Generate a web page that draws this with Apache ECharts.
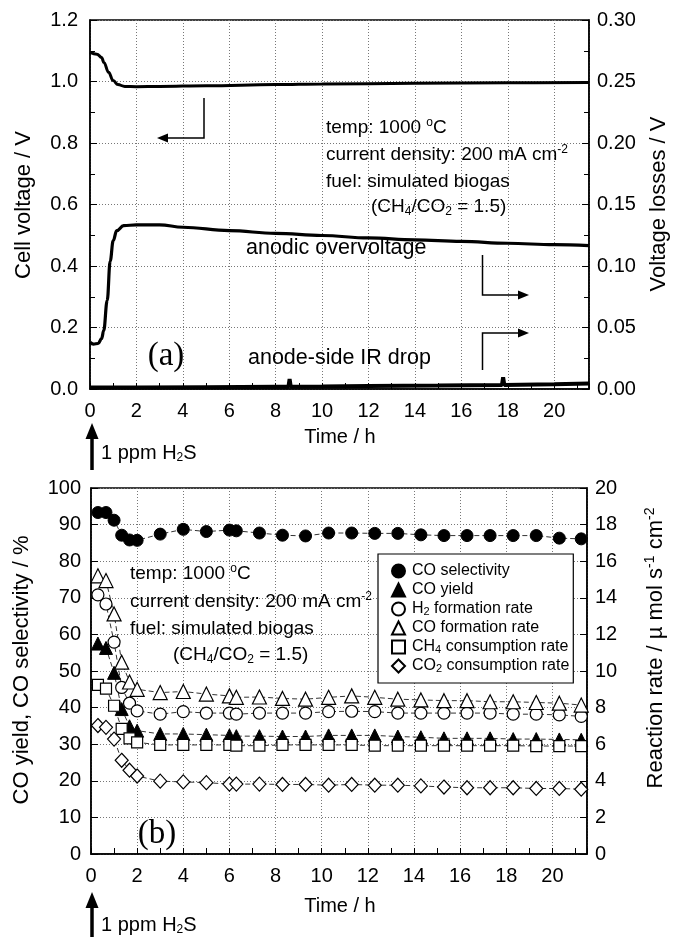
<!DOCTYPE html>
<html>
<head>
<meta charset="utf-8">
<script src="https://cdn.jsdelivr.net/npm/echarts@6/dist/echarts.min.js"></script>
<style>html,body{margin:0;padding:0;background:#fff;}#c{width:676px;height:937px;}</style>
</head>
<body>
<div id="c"></div>
<script>
// ---------- Panel (a) data ----------
const cellTime    = [0, 0.3, 0.5, 0.6, 0.8, 1.0, 1.2, 1.5, 2, 3, 5, 8, 10, 14, 18, 21.5];
const cellVoltage = [1.095, 1.089, 1.078, 1.062, 1.03, 1.003, 0.99, 0.984, 0.983, 0.984, 0.986, 0.99, 0.992, 0.994, 0.996, 0.997];

const ovTime      = [0, 0.15, 0.35, 0.5, 0.59, 0.74, 0.87, 1.0, 1.15, 1.45, 2, 3, 4, 6, 8, 10, 12, 14, 16, 18, 20, 21.5];
const overvoltage = [0.038, 0.0365, 0.037, 0.041, 0.0474, 0.0718, 0.104, 0.1206, 0.1287, 0.1328, 0.1335, 0.1335, 0.1315, 0.1288, 0.1265, 0.1248, 0.1228, 0.1213, 0.12, 0.1185, 0.1173, 0.1165];

const irTime   = [0, 2, 5, 8, 8.55, 8.6, 8.65, 10, 12, 15, 17.75, 17.8, 17.85, 20, 21.5];
const irDrop   = [0.0012, 0.0012, 0.0015, 0.0018, 0.0018, 0.008, 0.0018, 0.002, 0.0024, 0.0028, 0.0033, 0.0095, 0.0033, 0.0038, 0.0045];

// ---------- Panel (b) data ----------
const bTime = [0.3, 0.65, 1.0, 1.33, 1.67, 2.0, 3, 4, 5, 6, 6.3, 7.3, 8.3, 9.3, 10.3, 11.3, 12.3, 13.3, 14.3, 15.3, 16.3, 17.3, 18.3, 19.3, 20.3, 21.25];
const coSelectivity = [93.3, 93.3, 91.2, 87.1, 85.8, 85.7, 87.4, 88.7, 88.1, 88.5, 88.3, 87.7, 87.1, 86.9, 87.7, 87.7, 87.6, 87.6, 87.2, 87.0, 87.0, 87.0, 87.0, 87.0, 86.3, 86.1];
const coYield       = [57.5, 56.3, 49.5, 39.6, 34.9, 33.7, 32.8, 32.8, 32.6, 32.4, 32.2, 32.2, 32.1, 32.1, 32.4, 32.4, 32.4, 32.1, 31.9, 31.6, 31.6, 31.6, 31.4, 31.4, 31.3, 31.2];
const h2Formation   = [14.16, 13.66, 11.58, 9.1, 8.24, 7.82, 7.64, 7.78, 7.7, 7.7, 7.64, 7.7, 7.7, 7.7, 7.78, 7.8, 7.78, 7.7, 7.7, 7.7, 7.7, 7.7, 7.64, 7.64, 7.6, 7.52];
const coFormation   = [15.2, 14.94, 13.12, 10.48, 9.4, 9.0, 8.82, 8.88, 8.74, 8.64, 8.56, 8.58, 8.5, 8.46, 8.56, 8.64, 8.56, 8.46, 8.42, 8.38, 8.38, 8.32, 8.32, 8.28, 8.24, 8.14];
const ch4Consumption= [9.24, 9.04, 8.1, 6.84, 6.32, 6.1, 5.96, 5.96, 5.96, 5.96, 5.92, 5.92, 5.96, 5.96, 5.96, 5.96, 5.92, 5.92, 5.92, 5.92, 5.92, 5.92, 5.92, 5.9, 5.9, 5.9];
const co2Consumption= [7.02, 6.92, 6.28, 5.12, 4.58, 4.26, 3.98, 3.94, 3.9, 3.82, 3.82, 3.82, 3.8, 3.8, 3.76, 3.8, 3.76, 3.76, 3.72, 3.66, 3.62, 3.62, 3.62, 3.58, 3.58, 3.54];

const legendNames = ['CO selectivity', 'CO yield', 'H2 formation rate', 'CO formation rate', 'CH4 consumption rate', 'CO2 consumption rate'];

const FONT = "'Liberation Sans', Arial, Helvetica, sans-serif";
const SERIF = "'Liberation Serif', 'Times New Roman', serif";

const pairs = (xs, ys) => xs.map((x, i) => [x, ys[i]]);

function xAxisCfg(gi) {
  return {
    gridIndex: gi, type: 'value', min: 0, max: 21.5, interval: 2,
    axisLine: {show: true, onZero: false, lineStyle: {color: '#000', width: 1.5}},
    axisTick: {show: true, inside: true, length: 6, lineStyle: {color: '#000', width: 1}},
    minorTick: {show: true, splitNumber: 2, length: 6, lineStyle: {color: '#000', width: 1}},
    axisLabel: {color: '#000', fontSize: 20, fontFamily: FONT, margin: 12, showMaxLabel: false},
    splitLine: {show: true, lineStyle: {color: '#777', width: 1, type: [1, 2]}}
  };
}
function yAxisCfg(gi, pos, min, max, interval, dec, split, margin, minor) {
  return {
    gridIndex: gi, type: 'value', position: pos, min: min, max: max, interval: interval,
    axisLine: {show: true, onZero: false, lineStyle: {color: '#000', width: 1.5}},
    axisTick: {show: true, inside: true, length: 7, lineStyle: {color: '#000', width: 1}},
    minorTick: {show: minor, splitNumber: 2, length: 5, lineStyle: {color: '#000', width: 1}},
    axisLabel: {color: '#000', fontSize: 20, fontFamily: FONT, margin: margin,
      formatter: v => v.toFixed(dec)},
    splitLine: {show: split, lineStyle: {color: '#777', width: 1, type: [1, 2]}}
  };
}

const dash = {color: '#333', width: 1, type: [5, 3]};
function marker(name, data, yIdx, symbol, size, filled) {
  return {
    name: name, type: 'line', xAxisIndex: 1, yAxisIndex: yIdx, data: data,
    symbol: symbol, symbolSize: size, showSymbol: true,
    lineStyle: dash,
    itemStyle: filled ? {color: '#000', borderColor: '#000', borderWidth: 1}
                      : {color: '#fff', borderColor: '#000', borderWidth: 1.2},
    emphasis: {disabled: true}, z: 3
  };
}

const fs = 19;
const annRich = {
  n: {fontSize: fs, fontFamily: FONT, fill: '#000', lineHeight: 22},
  sup: {fontSize: 12, fontFamily: FONT, fill: '#000', verticalAlign: 'top', lineHeight: 10},
  sub: {fontSize: 12, fontFamily: FONT, fill: '#000', verticalAlign: 'bottom', lineHeight: 8}
};
function annText(x, y, text, size) {
  const rich = JSON.parse(JSON.stringify(annRich));
  if (size) rich.n.fontSize = size;
  return {type: 'text', x: x, y: y, z: 50,
    style: {text: text, rich: rich, align: 'left', verticalAlign: 'middle', fontSize: size || fs, fontFamily: FONT, fill: '#000'}};
}
function vText(x, y, text, size) {
  return {type: 'text', x: x, y: y, rotation: Math.PI / 2, z: 50,
    style: {text: text, align: 'center', verticalAlign: 'middle', fontSize: size, fontFamily: FONT, fill: '#000',
      rich: {
        n: {fontSize: size, fontFamily: FONT, fill: '#000', lineHeight: 26},
        sup: {fontSize: 14, fontFamily: FONT, fill: '#000', verticalAlign: 'top', lineHeight: 12}
      }}};
}
function bentArrow(pts, head) {
  return [
    {type: 'polyline', z: 50, shape: {points: pts}, style: {stroke: '#000', lineWidth: 1.5, fill: null}},
    {type: 'polygon', z: 50, shape: {points: head}, style: {fill: '#000'}}
  ];
}
function upArrow(x, yTip, yEnd) {
  return [
    {type: 'line', z: 50, shape: {x1: x, y1: yTip + 10, x2: x, y2: yEnd}, style: {stroke: '#000', lineWidth: 3.5}},
    {type: 'polygon', z: 50, shape: {points: [[x, yTip], [x - 6.5, yTip + 16], [x + 6.5, yTip + 16]]}, style: {fill: '#000'}}
  ];
}

const graphics = [
  // panel (a) annotations
  annText(326, 128, '{n|temp: 1000 }{sup|o}{n|C}'),
  annText(326, 155, '{n|current density: 200 mA cm}{sup|-2}'),
  annText(326, 182, '{n|fuel: simulated biogas}'),
  annText(371, 207, '{n|(CH}{sub|4}{n|/CO}{sub|2}{n| = 1.5)}'),
  annText(246, 248, '{n|anodic overvoltage}', 21.5),
  annText(248, 358, '{n|anode-side IR drop}', 21.5),
  {type: 'text', x: 166, y: 356, z: 50, style: {text: '(a)', align: 'center', verticalAlign: 'middle', fontSize: 33, fontFamily: SERIF, fill: '#000'}},
  ...bentArrow([[204, 98], [204, 138], [166, 138]], [[157, 138], [168, 133.5], [168, 142.5]]),
  ...bentArrow([[482.5, 255], [482.5, 295], [520, 295]], [[529, 295], [518, 290.5], [518, 299.5]]),
  ...bentArrow([[482.5, 370], [482.5, 333], [520, 333]], [[529, 333], [518, 328.5], [518, 337.5]]),
  ...upArrow(92, 423, 470),
  annText(101, 453, '{n|1 ppm H}{sub|2}{n|S}', 20),
  {type: 'text', x: 340, y: 437, z: 50, style: {text: 'Time / h', align: 'center', verticalAlign: 'middle', fontSize: 20, fontFamily: FONT, fill: '#000'}},
  vText(24, 205, '{n|Cell voltage / V}', 22),
  vText(659, 204, '{n|Voltage losses / V}', 22),
  // panel (b) annotations
  annText(130, 574, '{n|temp: 1000 }{sup|o}{n|C}'),
  annText(130, 602, '{n|current density: 200 mA cm}{sup|-2}'),
  annText(130, 629, '{n|fuel: simulated biogas}'),
  annText(173, 655, '{n|(CH}{sub|4}{n|/CO}{sub|2}{n| = 1.5)}'),
  {type: 'text', x: 157, y: 834, z: 50, style: {text: '(b)', align: 'center', verticalAlign: 'middle', fontSize: 33, fontFamily: SERIF, fill: '#000'}},
  ...upArrow(92, 892, 937),
  annText(101, 925, '{n|1 ppm H}{sub|2}{n|S}', 20),
  {type: 'text', x: 340, y: 906, z: 50, style: {text: 'Time / h', align: 'center', verticalAlign: 'middle', fontSize: 20, fontFamily: FONT, fill: '#000'}},
  vText(22, 670, '{n|CO yield, CO selectivity / %}', 22),
  vText(656, 648, '{n|Reaction rate / µ mol s}{sup|-1}{n| cm}{sup|-2}', 22)
];

const chart = echarts.init(document.getElementById('c'), null, {renderer: 'canvas'});
const option = {
  animation: false,
  backgroundColor: '#fff',
  textStyle: {fontFamily: FONT},
  grid: [
    {left: 90, top: 20, width: 499, height: 369, show: true, borderColor: '#000', borderWidth: 1.5, backgroundColor: 'transparent', containLabel: false},
    {left: 91, top: 488, width: 496, height: 366, show: true, borderColor: '#000', borderWidth: 1.5, backgroundColor: 'transparent', containLabel: false}
  ],
  xAxis: [xAxisCfg(0), xAxisCfg(1)],
  yAxis: [
    yAxisCfg(0, 'left', 0, 1.2, 0.2, 1, true, 12, true),
    yAxisCfg(0, 'right', 0, 0.3, 0.05, 2, false, 8, true),
    yAxisCfg(1, 'left', 0, 100, 10, 0, true, 10, false),
    yAxisCfg(1, 'right', 0, 20, 2, 0, false, 8, false)
  ],
  legend: {
    show: true, orient: 'vertical', left: 378, top: 554,
    padding: [9, 4, 9, 13], itemGap: 3, itemWidth: 13, itemHeight: 13,
    backgroundColor: '#fff', borderColor: '#000', borderWidth: 1.2,
    selectedMode: false,
    data: [
      {name: legendNames[0], icon: 'circle'},
      {name: legendNames[1], icon: 'triangle'},
      {name: legendNames[2], icon: 'circle'},
      {name: legendNames[3], icon: 'triangle'},
      {name: legendNames[4], icon: 'rect'},
      {name: legendNames[5], icon: 'diamond'}
    ],
    formatter: name => name.replace(/([A-Z])(\d)/, '$1{s|$2}'),
    textStyle: {color: '#000', fontSize: 16, fontFamily: FONT, lineHeight: 16, padding: [0, 0, 0, 2],
      rich: {s: {fontSize: 11, fontFamily: FONT, color: '#000', verticalAlign: 'bottom', lineHeight: 7}}}
  },
  series: [
    {name: 'Cell voltage', type: 'line', xAxisIndex: 0, yAxisIndex: 0, data: pairs(cellTime, cellVoltage),
      showSymbol: false, smooth: 0.4, smoothMonotone: 'x', lineStyle: {color: '#000', width: 3}, emphasis: {disabled: true}},
    {name: 'Anodic overvoltage', type: 'line', xAxisIndex: 0, yAxisIndex: 1, data: pairs(ovTime, overvoltage),
      showSymbol: false, smooth: 0.4, smoothMonotone: 'x', lineStyle: {color: '#000', width: 3.2}, emphasis: {disabled: true}},
    {name: 'Anode-side IR drop', type: 'line', xAxisIndex: 0, yAxisIndex: 1, data: pairs(irTime, irDrop),
      showSymbol: false, lineStyle: {color: '#000', width: 4}, emphasis: {disabled: true}},
    marker(legendNames[0], pairs(bTime, coSelectivity), 2, 'circle', 12, true),
    marker(legendNames[1], pairs(bTime, coYield), 2, 'triangle', 13, true),
    marker(legendNames[2], pairs(bTime, h2Formation), 3, 'circle', 12, false),
    marker(legendNames[3], pairs(bTime, coFormation), 3, 'triangle', 14, false),
    marker(legendNames[4], pairs(bTime, ch4Consumption), 3, 'rect', 11, false),
    marker(legendNames[5], pairs(bTime, co2Consumption), 3, 'diamond', [13, 14], false)
  ],
  graphic: graphics
};
chart.setOption(option);
</script>
</body>
</html>
